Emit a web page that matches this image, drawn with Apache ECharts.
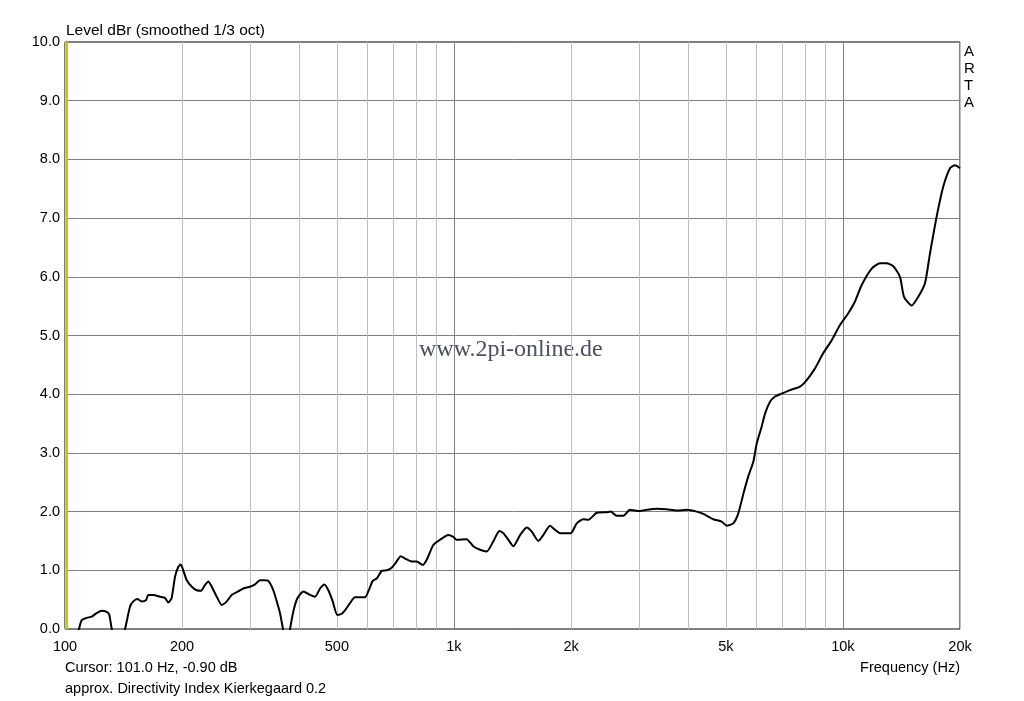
<!DOCTYPE html>
<html>
<head>
<meta charset="utf-8">
<script src="https://cdn.jsdelivr.net/npm/echarts@6/dist/echarts.min.js"></script>
<style>
html,body{margin:0;padding:0;background:#fff;}
#c{width:1024px;height:701px;}
</style>
</head>
<body>
<div id="c"></div>
<script>
// Frequencies (Hz) and levels (dBr)
const freqs = [100,101,104,108.6,110.4,113.7,117.1,120.6,124.3,128,130,131.9,136.8,142.7,146.9,149.8,153.5,157.5,161.5,163.7,168.7,175.5,180.7,184.3,188,191.8,195.6,198.4,201.4,205.6,211.8,218.1,223.4,229.1,233.6,238.4,245.5,252.9,260.5,268.3,279,287.4,299,308,317.2,324.8,333.2,343.2,353.5,357.1,363.5,371.1,378.9,386.4,395.6,410,426.6,439.4,452.6,464.3,475.4,487.9,501.2,514.4,527.6,540.3,556.6,573.4,590.6,602.3,618.2,633,652,671.6,687.7,705.4,729.7,748.4,778.7,802.1,831.1,851.1,885.1,920.9,967.1,996.1,1016,1078,1121,1167,1214,1262,1308,1340,1380,1421,1479,1538,1585,1648,1697,1766,1819,1874,1995,2068,2150,2215,2328,2470,2529,2620,2725,2836,3008,3130,3320,3524,3739,3966,4209,4377,4644,4879,5026,5227,5383,5545,5711,5884,6003,6183,6306,6495,6690,6960,7310,7757,8072,8478,8904,9358,9829,10323,10742,11176,11858,12454,12958,13475,14020,14356,15025,15625,16255,16746,17483,18118,18852,19421,20000];
const levels = [-0.95,-0.90,-0.45,0.0,0.15,0.19,0.21,0.27,0.31,0.29,0.24,0.0,-0.4,0.0,0.38,0.47,0.51,0.47,0.49,0.58,0.58,0.55,0.53,0.45,0.53,0.89,1.06,1.10,1.00,0.83,0.72,0.66,0.65,0.75,0.81,0.72,0.55,0.41,0.47,0.58,0.64,0.69,0.72,0.76,0.83,0.83,0.82,0.66,0.38,0.27,0.0,-0.3,0.0,0.30,0.52,0.64,0.58,0.55,0.69,0.76,0.66,0.47,0.24,0.26,0.34,0.44,0.54,0.54,0.54,0.64,0.82,0.86,0.99,1.00,1.03,1.11,1.24,1.20,1.15,1.15,1.09,1.18,1.43,1.52,1.60,1.57,1.52,1.53,1.41,1.35,1.32,1.49,1.67,1.63,1.52,1.41,1.60,1.73,1.66,1.50,1.60,1.76,1.69,1.63,1.63,1.80,1.87,1.86,1.98,1.99,2.00,1.93,1.93,2.03,2.01,2.03,2.05,2.04,2.02,2.03,2.00,1.96,1.87,1.83,1.76,1.80,1.97,2.30,2.60,2.85,3.16,3.45,3.67,3.87,3.96,4.01,4.07,4.13,4.24,4.44,4.70,4.92,5.18,5.38,5.58,5.86,6.14,6.23,6.23,6.18,6.00,5.66,5.51,5.66,5.89,6.40,7.08,7.54,7.85,7.90,7.85];
const xLabelValues = [100,200,500,1000,2000,5000,10000,20000];
const xMinorGrid = [100,200,300,400,500,600,700,800,900,1000,2000,3000,4000,5000,6000,7000,8000,9000,10000,20000];
const xMajorGrid = [1000,10000];
const cursorFreq = 101;

const font = '"Liberation Sans", Arial, sans-serif';
const chart = echarts.init(document.getElementById('c'), null, {renderer:'canvas'});
function fmtHz(v){ return v >= 1000 ? (v/1000) + 'k' : String(v); }
chart.setOption({
  animation:false,
  backgroundColor:'#ffffff',
  grid:{left:65,top:42,right:64,bottom:72,show:true,borderColor:'#000',borderWidth:1,backgroundColor:'transparent'},
  xAxis:[{
    type:'log', logBase:10, min:100, max:20000,
    axisLine:{show:false},
    axisTick:{show:false, customValues:xMinorGrid},
    axisLabel:{customValues:xLabelValues, formatter:fmtHz, color:'#000', fontFamily:font, fontSize:14.5, margin:10},
    splitLine:{show:true, lineStyle:{color:'#c0c0c0', width:1}}
  },{
    type:'log', logBase:10, min:100, max:20000, gridIndex:0, position:'bottom',
    axisLine:{show:false},
    axisTick:{show:false, customValues:xMajorGrid},
    axisLabel:{show:false, customValues:xMajorGrid},
    splitLine:{show:true, lineStyle:{color:'#808080', width:1}}
  }],
  yAxis:{
    type:'value', min:0, max:10, interval:1,
    axisLine:{show:false}, axisTick:{show:false},
    axisLabel:{formatter:v=>v.toFixed(1), color:'#000', fontFamily:font, fontSize:14.5, margin:5},
    splitLine:{show:true, lineStyle:{color:'#808080', width:1}}
  },
  series:[{
    type:'line', xAxisIndex:0,
    data:freqs.map((f,i)=>[f,levels[i]]),
    showSymbol:false, symbol:'none', clip:true, smooth:0.2,
    lineStyle:{color:'#000', width:2},
    markLine:{
      silent:true, symbol:'none', label:{show:false},
      lineStyle:{color:'#c8c800', width:2, type:'solid'},
      data:[{xAxis:cursorFreq}]
    },
    z:5
  }],
  graphic:[
    {type:'text', left:66, top:23, style:{text:'Level dBr (smoothed 1/3 oct)', fill:'#000', font:'15.5px '+font}},
    {type:'text', left:65, top:660, style:{text:'Cursor: 101.0 Hz, -0.90 dB', fill:'#000', font:'14.5px '+font}},
    {type:'text', left:65, top:681, style:{text:'approx. Directivity Index Kierkegaard 0.2', fill:'#000', font:'14.5px '+font}},
    {type:'text', right:64, top:660, style:{text:'Frequency (Hz)', fill:'#000', font:'14.5px '+font}},
    {type:'text', left:964, top:43, style:{text:'A\nR\nT\nA', fill:'#000', font:'15px '+font, lineHeight:17}},
    {type:'text', left:419, top:338, style:{text:'www.2pi-online.de', fill:'#4a5060', font:'24px "Liberation Serif", "DejaVu Serif", serif'}}
  ]
});
</script>
</body>
</html>
